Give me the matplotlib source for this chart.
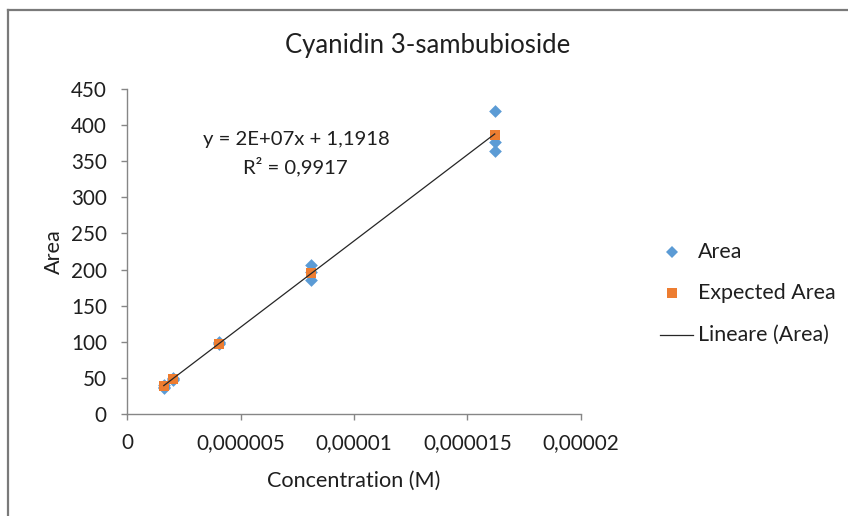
import matplotlib
matplotlib.use("Agg")
import matplotlib.pyplot as plt
import numpy as np
from matplotlib.lines import Line2D

plt.rcParams['font.family'] = ['Lato', 'DejaVu Sans']

# Data
area_conc = [1.62e-6, 1.62e-6, 1.62e-6,
             2.025e-6, 2.025e-6, 2.025e-6,
             4.05e-6, 4.05e-6, 4.05e-6,
             8.1e-6, 8.1e-6, 8.1e-6,
             1.62e-5, 1.62e-5, 1.62e-5]
area_vals = [36, 38, 40,
             47, 48, 50,
             97, 98, 100,
             186, 196, 207,
             364, 376, 420]
exp_conc = [1.62e-6, 2.025e-6, 4.05e-6, 8.1e-6, 1.62e-5]
exp_vals = [39, 49, 97.5, 195, 387]

x_ticks = [0, 0.000005, 0.00001, 0.000015, 0.00002]
x_tick_labels = ["0", "0,000005", "0,00001", "0,000015", "0,00002"]
y_ticks = [0, 50, 100, 150, 200, 250, 300, 350, 400, 450]
y_tick_labels = [str(v) for v in y_ticks]

title = "Cyanidin 3-sambubioside"
eq_line1 = "y = 2E+07x + 1,1918"
eq_line2 = "R\u00b2 = 0,9917"
legend_labels = ["Area", "Expected Area", "Lineare (Area)"]

W, H = 848, 516
fig = plt.figure(figsize=(W / 100, H / 100), dpi=100)
renderer = fig.canvas.get_renderer()


def fit_size(text, target_px, base=12.0):
    t = fig.text(0, 0, text, fontsize=base)
    w = t.get_window_extent(renderer=renderer).width
    t.remove()
    return base * target_px / w


def fx(px):
    return px / W


def fy(py):
    return 1 - py / H


ax = fig.add_axes([fx(127), fy(414), (581 - 127) / W, (414 - 89) / H])

blue = '#5B9BD5'
orange = '#ED7D31'
dark = '#1f1f1f'
axcol = '#868686'
linecol = '#262626'

ax.scatter(area_conc, area_vals, marker='D', s=42, color=blue, zorder=3, linewidths=0)
ax.scatter(exp_conc, exp_vals, marker='s', s=55, color=orange, zorder=4, linewidths=0)

slope, intercept = np.polyfit(area_conc, area_vals, 1)
xs = np.array([min(area_conc), max(area_conc)])
ax.plot(xs, slope * xs + intercept, color=linecol, lw=0.9, zorder=5)

ax.set_xlim(0, 0.00002)
ax.set_ylim(0, 450)
ax.set_xticks(x_ticks)
ax.set_xticklabels(x_tick_labels)
ax.set_yticks(y_ticks)
ax.set_yticklabels(y_tick_labels)

tick_fs = fit_size("0,000005", 88)
lab_fs = fit_size("Concentration (M)", 173)
title_fs = fit_size(title, 283)
eq_fs = fit_size(eq_line1, 186)
leg_fs = fit_size("Expected Area", 137)

for s in ['top', 'right']:
    ax.spines[s].set_visible(False)
for s in ['left', 'bottom']:
    ax.spines[s].set_color(axcol)
    ax.spines[s].set_linewidth(1.0)
ax.tick_params(axis='both', colors=axcol, labelcolor=dark, labelsize=tick_fs,
               length=4.5, width=1.0, direction='out')
ax.tick_params(axis='y', pad=10)
ax.tick_params(axis='x', pad=9)

ax.set_xlabel("Concentration (M)", fontsize=lab_fs, color=dark)
ax.xaxis.set_label_coords((354 - 127) / (581 - 127), -(481 - 414) / (414 - 89), transform=ax.transAxes)
ax.xaxis.label.set_va('center')
ax.set_ylabel("Area", fontsize=lab_fs, color=dark)
ax.yaxis.set_label_coords(-(127 - 54) / (581 - 127), (414 - 252) / (414 - 89), transform=ax.transAxes)
ax.yaxis.label.set_va('center')

fig.text(fx(428), fy(45), title, ha='center', va='center', fontsize=title_fs, color=dark)

fig.text(fx(296), fy(140), eq_line1, ha='center', va='center', fontsize=eq_fs, color=dark)
fig.text(fx(295), fy(167), eq_line2, ha='center', va='center', fontsize=eq_fs, color=dark)

# Legend (drawn at fixed figure positions)
leg_rows = [252, 293, 335]
fig.add_artist(Line2D([fx(672)], [fy(leg_rows[0])], transform=fig.transFigure, marker='D',
                      color=blue, linestyle='None', markersize=6, markeredgewidth=0))
fig.add_artist(Line2D([fx(672)], [fy(leg_rows[1])], transform=fig.transFigure, marker='s',
                      color=orange, linestyle='None', markersize=6.5, markeredgewidth=0))
fig.add_artist(Line2D([fx(660), fx(693)], [fy(leg_rows[2]), fy(leg_rows[2])],
                      transform=fig.transFigure, color=linecol, lw=0.9))
for lab, row in zip(legend_labels, leg_rows):
    fig.text(fx(698), fy(row), lab, ha='left', va='center', fontsize=leg_fs, color=dark)

# Outer frame lines
fig.add_artist(Line2D([fx(8), 1], [fy(10), fy(10)], transform=fig.transFigure,
                      color='#7a7a7a', lw=1.6))
fig.add_artist(Line2D([fx(8), fx(8)], [0, fy(10)], transform=fig.transFigure,
                      color='#7a7a7a', lw=1.6))

fig.savefig("out.png", dpi=100)
